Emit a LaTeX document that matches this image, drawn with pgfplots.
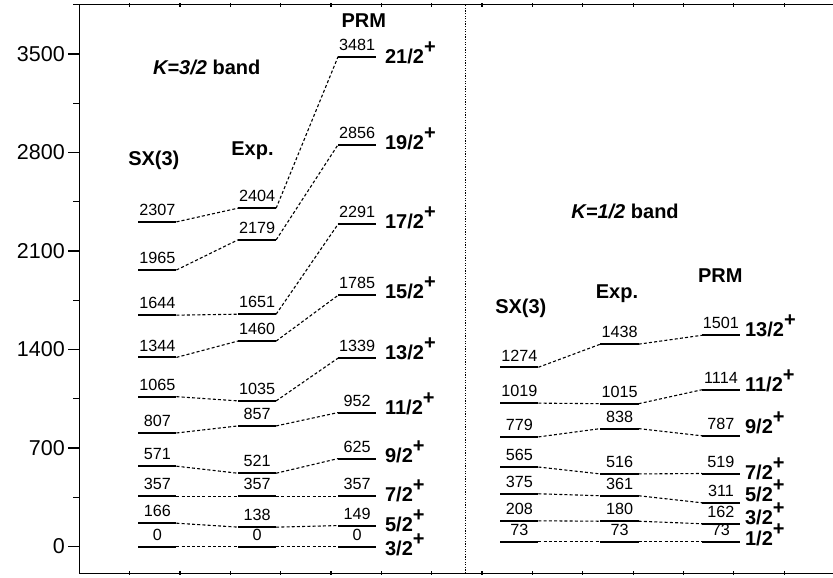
\documentclass[border=0pt]{standalone}
\usepackage{fontspec}
\setmainfont{Liberation Sans}
\usepackage{pgfplots}
\pgfplotsset{compat=1.18}
\usepackage{pgfplotstable}
\usetikzlibrary{calc}

\newcommand\tickfont{\fontsize{21.5}{21.5}\selectfont}
\newcommand\valfont{\fontsize{16.2}{16.2}\selectfont}
\newcommand\titfont{\fontsize{20}{20}\selectfont\bfseries}
\newcommand\plus{\raisebox{10pt}{\fontsize{20}{20}\selectfont\bfseries +}}

% K=3/2 band: level energies of SX(3), Exp., PRM; spin label and its baseline
\pgfplotstableread{
sx   exp  prm  spin spy
2307 2404 3481 21/2 3434
1965 2179 2856 19/2 2818
1644 1651 2291 17/2 2261
1344 1460 1785 15/2 1764
1065 1035 1339 13/2 1326
807  857  952  11/2 935
571  521  625  9/2  598
357  357  357  7/2  319
166  138  149  5/2  105
0    0    0    3/2  -60
}\leftband

% K=1/2 band: drawn heights, printed values, spin labels
\pgfplotstableread{
sx   exp  prm  sxl  expl prml spin spy
1274 1438 1501 1274 1438 1501 13/2 1491
1019 1015 1114 1019 1015 1114 11/2 1100
779  838  787  779  838  787  9/2  805
565  516  519  565  516  519  7/2  480
375  361  311  375  361  311  5/2  318
183  180  162  208  180  162  3/2  160
35   35   35   73   73   73   1/2  6
}\rightband

\pgfplotsset{
  level/.style={only marks, mark=none, nodes near coords,
    point meta=explicit symbolic,
    every node near coord/.append style={anchor=south, yshift=6pt,
      inner sep=0pt, font=\valfont, black},
    error bars/x dir=both, error bars/x fixed=0.38,
    error bars/error mark=none,
    error bars/error bar style={line width=2pt, black, solid}},
  conn/.style={black, line width=1.1pt, dash pattern=on 3pt off 2.2pt},
  spinlab/.style={only marks, mark=none, nodes near coords={\pgfplotspointmeta\plus},
    point meta=explicit symbolic,
    every node near coord/.style={anchor=base west, inner sep=0pt,
      font=\titfont, black}},
}

\begin{document}
\begin{tikzpicture}
\begin{axis}[
  scale only axis, width=753.7pt, height=568.6pt,
  xmin=0, xmax=14.97, ymin=-190, ymax=3850,
  axis y line*=left, axis x line*=box,
  axis line style={line width=1.5pt},
  xtick=\empty,
  ytick={0,700,1400,2100,2800,3500},
  yticklabels={0,700,1400,2100,2800,3500},
  minor ytick={350,1050,...,3850},
  tick align=outside, major tick length=11pt, minor tick length=6pt,
  tick style={line width=1.2pt, black},
  yticklabel style={font=\tickfont, anchor=east},
  clip=false,
]
% K=3/2 band
\addplot[level] table[x expr=1.55, y=sx, meta=sx] {\leftband};
\addplot[level] table[x expr=3.53, y=exp, meta=exp] {\leftband};
\addplot[level] table[x expr=5.52, y=prm, meta=prm] {\leftband};
\addplot[conn, quiver={u=1.22, v=\thisrow{exp}-\thisrow{sx}}]
  table[x expr=1.93, y=sx] {\leftband};
\addplot[conn, quiver={u=1.23, v=\thisrow{prm}-\thisrow{exp}}]
  table[x expr=3.91, y=exp] {\leftband};
\addplot[spinlab] table[x expr=6.07, y=spy, meta=spin] {\leftband};

% K=1/2 band
\addplot[level] table[x expr=8.74, y=sx, meta=sxl] {\rightband};
\addplot[level] table[x expr=10.73, y=exp, meta=expl] {\rightband};
\addplot[level] table[x expr=12.745, y=prm, meta=prml] {\rightband};
\addplot[conn, quiver={u=1.23, v=\thisrow{exp}-\thisrow{sx}}]
  table[x expr=9.12, y=sx] {\rightband};
\addplot[conn, quiver={u=1.255, v=\thisrow{prm}-\thisrow{exp}}]
  table[x expr=11.11, y=exp] {\rightband};
\addplot[spinlab] table[x expr=13.22, y=spy, meta=spin] {\rightband};

% panel divider and small x ticks on the top and bottom lines
\draw[line width=1.2pt, dash pattern=on 1.3pt off 1.3pt] (axis cs:7.67,-190) -- (axis cs:7.67,3850);
\pgfplotsinvokeforeach{1,...,14}{
  \draw[line width=1.2pt] (axis cs:#1,-176) -- (axis cs:#1,-204);
  \draw[line width=1.2pt] (axis cs:#1,3836) -- (axis cs:#1,3864);
}

% titles
\node[anchor=base, font=\titfont] at (axis cs:2.53,3351) {\itshape K=3/2\upshape{} band};
\node[anchor=base, font=\titfont] at (axis cs:1.48,2705) {SX(3)};
\node[anchor=base, font=\titfont] at (axis cs:3.44,2775) {Exp.};
\node[anchor=base, font=\titfont] at (axis cs:5.65,3685) {PRM};
\node[anchor=base, font=\titfont] at (axis cs:10.84,2333) {\itshape K=1/2\upshape{} band};
\node[anchor=base, font=\titfont] at (axis cs:8.77,1656) {SX(3)};
\node[anchor=base, font=\titfont] at (axis cs:10.68,1766) {Exp.};
\node[anchor=base, font=\titfont] at (axis cs:12.73,1873) {PRM};
\end{axis}
\pgfresetboundingbox
\path[use as bounding box] ($(current axis.south west)+(-79.3pt,-4.7pt)$)
  rectangle ($(current axis.north east)+(0pt,4.7pt)$);
\end{tikzpicture}
\end{document}
